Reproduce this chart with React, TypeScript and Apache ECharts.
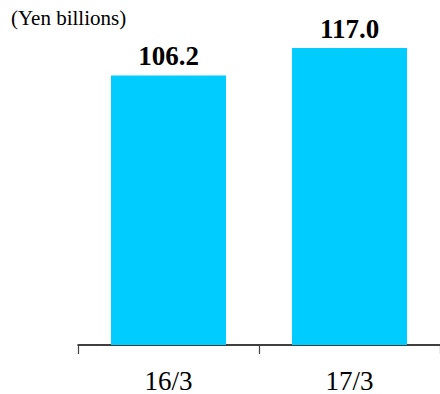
import React, { useEffect, useRef } from "react";
import * as echarts from "echarts";

const categories = ["16/3", "17/3"];
const values = [106.2, 117.0];
const unitLabel = "(Yen billions)";

export default function App() {
  const ref = useRef<HTMLDivElement>(null);
  useEffect(() => {
    if (!ref.current) return;
    const chart = echarts.init(ref.current, null, { renderer: "svg" });
    const font = "'Liberation Serif', 'Times New Roman', serif";
    chart.setOption({
      animation: false,
      textStyle: { fontFamily: font },
      graphic: [
        {
          type: "text",
          x: 11,
          y: 7,
          style: {
            text: unitLabel,
            font: "normal 21px 'Liberation Serif', 'Times New Roman', serif",
            fill: "#000",
            textVerticalAlign: "top",
          },
        },
      ],
      grid: { left: 78, right: -5, top: 48, bottom: 49, containLabel: false },
      xAxis: {
        type: "category",
        data: categories,
        axisLine: { lineStyle: { color: "#000", width: 1.5 } },
        axisTick: { show: true, length: 9, alignWithLabel: false, lineStyle: { color: "#444", width: 1.2 } },
        axisLabel: { fontFamily: font, fontSize: 27, color: "#000", margin: 22 },
      },
      yAxis: {
        type: "value",
        min: 0,
        max: 117,
        show: false,
        splitLine: { show: false },
      },
      series: [
        {
          type: "bar",
          data: values,
          barWidth: 115,
          itemStyle: { color: "#00CCFF" },
          label: {
            show: true,
            position: "top",
            distance: 6,
            formatter: (p: any) => p.value.toFixed(1),
            fontFamily: font,
            fontSize: 27,
            fontWeight: "bold",
            color: "#000",
          },
        },
      ],
    });
    return () => chart.dispose();
  }, []);
  return <div ref={ref} style={{ width: 440, height: 394, position: "absolute", left: 0, top: 0 }} />;
}
